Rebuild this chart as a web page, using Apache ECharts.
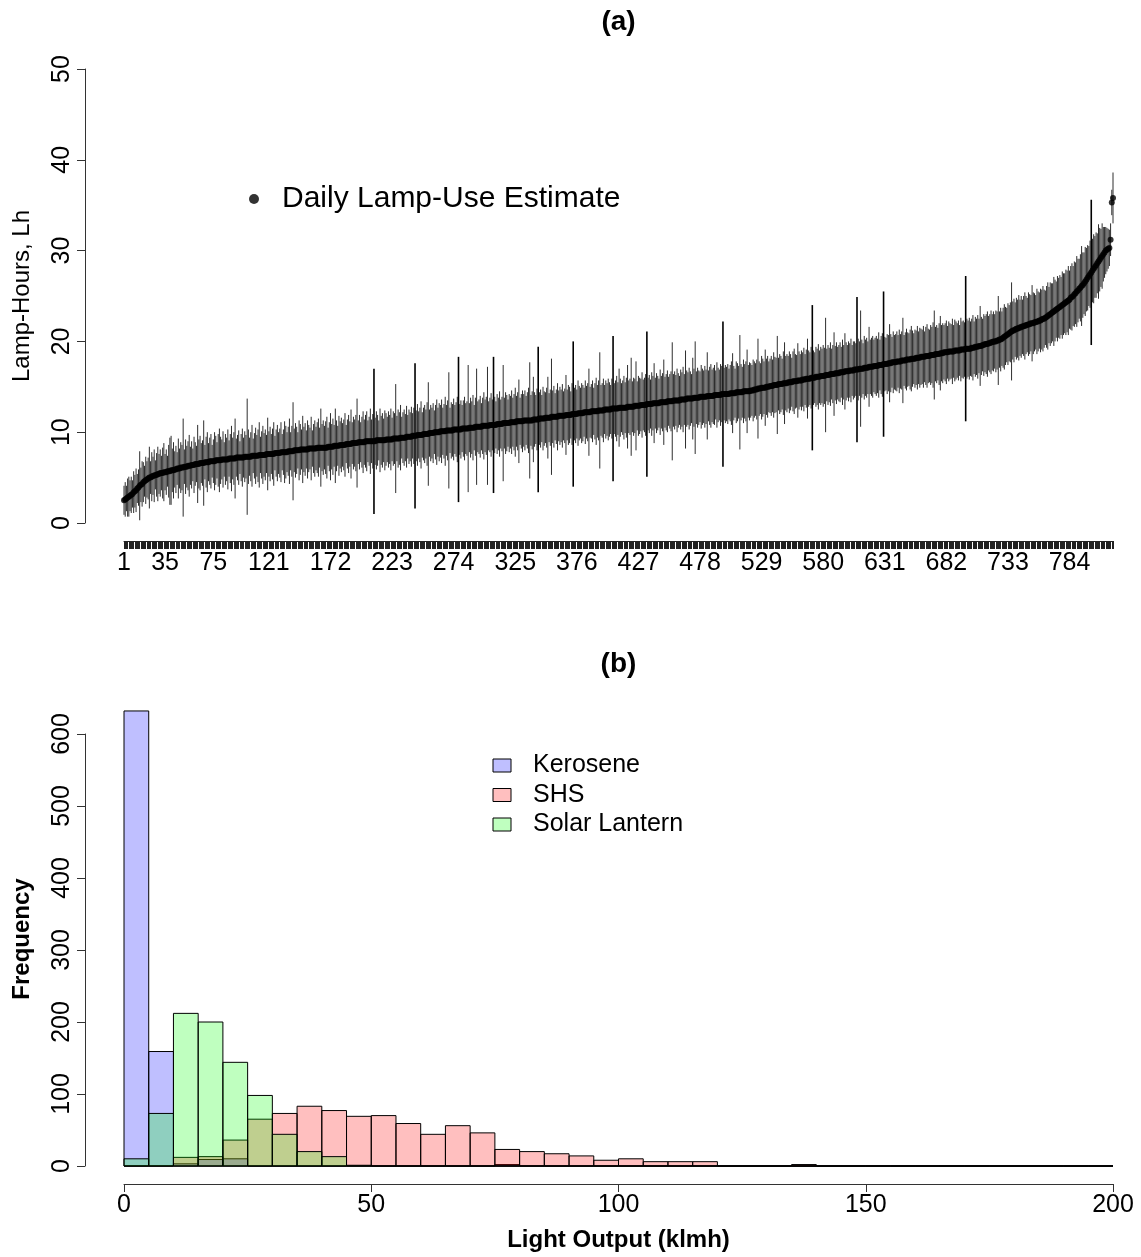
<!DOCTYPE html>
<html>
<head>
<meta charset="utf-8">
<script src="https://cdn.jsdelivr.net/npm/echarts@6.0.0/dist/echarts.min.js"></script>
<style>
html,body{margin:0;padding:0;background:#fff;}
#main{width:1141px;height:1257px;}
</style>
</head>
<body>
<div id="main"></div>
<script>
// ---------- Panel (a): daily lamp-use estimates, sorted ----------
const indexTickLabels = [1,35,75,121,172,223,274,325,376,427,478,529,580,631,682,733,784];

const lampMean = [
2.5,2.6,2.7,2.8,2.9,3.0,3.1,3.2,3.4,3.5,3.6,3.8,3.9,4.1,4.2,4.3,4.5,4.6,4.7,4.8,
4.9,5.0,5.0,5.1,5.2,5.2,5.3,5.3,5.4,5.4,5.5,5.5,5.5,5.6,5.6,5.6,5.7,5.7,5.7,5.8,
5.8,5.8,5.9,5.9,6.0,6.0,6.0,6.1,6.1,6.1,6.2,6.2,6.2,6.3,6.3,6.3,6.4,6.4,6.4,6.5,
6.5,6.5,6.5,6.6,6.6,6.6,6.6,6.7,6.7,6.7,6.7,6.8,6.8,6.8,6.8,6.8,6.9,6.9,6.9,6.9,
6.9,7.0,7.0,7.0,7.0,7.0,7.0,7.1,7.1,7.1,7.1,7.1,7.1,7.2,7.2,7.2,7.2,7.2,7.2,7.2,
7.3,7.3,7.3,7.3,7.3,7.3,7.4,7.4,7.4,7.4,7.4,7.4,7.5,7.5,7.5,7.5,7.5,7.5,7.6,7.6,
7.6,7.6,7.6,7.6,7.6,7.7,7.7,7.7,7.7,7.7,7.8,7.8,7.8,7.8,7.8,7.8,7.9,7.9,7.9,7.9,
7.9,8.0,8.0,8.0,8.0,8.0,8.1,8.1,8.1,8.1,8.1,8.1,8.1,8.2,8.2,8.2,8.2,8.2,8.2,8.2,
8.3,8.3,8.3,8.3,8.3,8.3,8.3,8.3,8.3,8.4,8.4,8.4,8.4,8.4,8.5,8.5,8.5,8.5,8.5,8.6,
8.6,8.6,8.6,8.6,8.7,8.7,8.7,8.7,8.7,8.8,8.8,8.8,8.8,8.8,8.9,8.9,8.9,8.9,8.9,8.9,
9.0,9.0,9.0,9.0,9.0,9.0,9.0,9.0,9.0,9.1,9.1,9.1,9.1,9.1,9.1,9.1,9.1,9.2,9.2,9.2,
9.2,9.2,9.2,9.3,9.3,9.3,9.3,9.3,9.3,9.4,9.4,9.4,9.4,9.4,9.5,9.5,9.5,9.5,9.5,9.6,
9.6,9.6,9.6,9.7,9.7,9.7,9.7,9.7,9.8,9.8,9.8,9.8,9.8,9.9,9.9,9.9,9.9,10.0,10.0,10.0,
10.0,10.0,10.1,10.1,10.1,10.1,10.1,10.2,10.2,10.2,10.2,10.2,10.2,10.3,10.3,10.3,10.3,10.3,10.3,10.3,
10.4,10.4,10.4,10.4,10.4,10.4,10.5,10.5,10.5,10.5,10.5,10.6,10.6,10.6,10.6,10.6,10.6,10.7,10.7,10.7,
10.7,10.7,10.7,10.8,10.8,10.8,10.8,10.8,10.8,10.9,10.9,10.9,10.9,10.9,11.0,11.0,11.0,11.0,11.0,11.0,
11.1,11.1,11.1,11.1,11.1,11.2,11.2,11.2,11.2,11.2,11.2,11.3,11.3,11.3,11.3,11.3,11.3,11.3,11.3,11.4,
11.4,11.4,11.4,11.4,11.5,11.5,11.5,11.5,11.5,11.6,11.6,11.6,11.6,11.6,11.7,11.7,11.7,11.7,11.7,11.7,
11.8,11.8,11.8,11.8,11.8,11.8,11.9,11.9,11.9,11.9,11.9,12.0,12.0,12.0,12.0,12.0,12.1,12.1,12.1,12.1,
12.1,12.2,12.2,12.2,12.2,12.2,12.2,12.3,12.3,12.3,12.3,12.3,12.3,12.4,12.4,12.4,12.4,12.4,12.5,12.5,
12.5,12.5,12.5,12.5,12.6,12.6,12.6,12.6,12.6,12.6,12.7,12.7,12.7,12.7,12.7,12.7,12.7,12.8,12.8,12.8,
12.8,12.8,12.8,12.9,12.9,12.9,12.9,12.9,13.0,13.0,13.0,13.0,13.0,13.1,13.1,13.1,13.1,13.1,13.2,13.2,
13.2,13.2,13.2,13.2,13.3,13.3,13.3,13.3,13.3,13.3,13.4,13.4,13.4,13.4,13.4,13.5,13.5,13.5,13.5,13.5,
13.5,13.6,13.6,13.6,13.6,13.6,13.7,13.7,13.7,13.7,13.7,13.7,13.8,13.8,13.8,13.8,13.8,13.9,13.9,13.9,
13.9,13.9,13.9,14.0,14.0,14.0,14.0,14.0,14.0,14.1,14.1,14.1,14.1,14.1,14.1,14.2,14.2,14.2,14.2,14.2,
14.2,14.2,14.3,14.3,14.3,14.3,14.3,14.4,14.4,14.4,14.4,14.4,14.4,14.5,14.5,14.5,14.5,14.5,14.5,14.6,
14.6,14.6,14.7,14.7,14.7,14.8,14.8,14.8,14.9,14.9,14.9,14.9,15.0,15.0,15.0,15.1,15.1,15.1,15.2,15.2,
15.2,15.2,15.3,15.3,15.3,15.3,15.4,15.4,15.4,15.4,15.5,15.5,15.5,15.5,15.6,15.6,15.6,15.6,15.7,15.7,
15.7,15.7,15.8,15.8,15.8,15.9,15.9,15.9,15.9,16.0,16.0,16.0,16.0,16.1,16.1,16.1,16.1,16.2,16.2,16.2,
16.2,16.3,16.3,16.3,16.3,16.4,16.4,16.4,16.4,16.5,16.5,16.5,16.5,16.6,16.6,16.6,16.6,16.7,16.7,16.7,
16.7,16.8,16.8,16.8,16.8,16.9,16.9,16.9,16.9,17.0,17.0,17.0,17.0,17.1,17.1,17.1,17.1,17.2,17.2,17.2,
17.2,17.3,17.3,17.3,17.3,17.4,17.4,17.4,17.4,17.5,17.5,17.5,17.5,17.6,17.6,17.6,17.7,17.7,17.7,17.7,
17.8,17.8,17.8,17.8,17.9,17.9,17.9,17.9,18.0,18.0,18.0,18.0,18.1,18.1,18.1,18.1,18.2,18.2,18.2,18.2,
18.3,18.3,18.3,18.3,18.4,18.4,18.4,18.4,18.5,18.5,18.5,18.5,18.6,18.6,18.6,18.6,18.7,18.7,18.7,18.8,
18.8,18.8,18.8,18.9,18.9,18.9,18.9,18.9,19.0,19.0,19.0,19.0,19.0,19.1,19.1,19.1,19.1,19.2,19.2,19.2,
19.2,19.2,19.3,19.3,19.3,19.4,19.4,19.4,19.5,19.5,19.5,19.6,19.6,19.7,19.7,19.7,19.8,19.8,19.9,19.9,
20.0,20.0,20.0,20.1,20.1,20.2,20.2,20.3,20.4,20.5,20.6,20.7,20.8,20.9,21.0,21.1,21.2,21.2,21.3,21.4,
21.4,21.5,21.5,21.6,21.6,21.7,21.7,21.8,21.8,21.9,21.9,22.0,22.0,22.0,22.1,22.1,22.2,22.2,22.3,22.3,
22.4,22.5,22.5,22.6,22.7,22.8,22.9,23.0,23.1,23.2,23.3,23.4,23.5,23.6,23.7,23.8,23.9,24.0,24.1,24.2,
24.3,24.4,24.5,24.6,24.8,24.9,25.0,25.2,25.3,25.5,25.6,25.8,25.9,26.1,26.2,26.4,26.6,26.8,27.0,27.2,
27.4,27.6,27.8,28.0,28.2,28.4,28.6,28.8,29.0,29.2,29.4,29.6,29.8,30.0,30.1,30.2,30.3,31.2,35.3,35.8
];

const lampHalfWidth = [
1.6,1.9,1.4,2.1,2.2,1.7,2.0,1.5,2.3,1.8,2.4,1.6,2.0,3.8,1.9,2.5,2.2,1.7,2.6,2.0,
2.3,3.4,1.8,2.7,2.1,2.9,1.6,2.4,3.0,2.2,2.6,1.9,2.8,3.2,2.0,2.5,1.7,2.9,3.7,3.8,
2.4,3.1,2.0,2.6,1.8,3.3,2.2,2.8,2.5,5.4,1.9,3.0,2.3,2.7,3.4,2.1,2.6,1.8,3.1,2.4,
2.0,4.3,2.7,3.0,2.2,2.5,4.7,1.9,2.8,3.3,2.1,2.6,3.0,1.8,2.4,3.2,2.7,2.0,2.9,3.5,
2.6,2.2,3.1,1.9,2.8,2.4,3.3,2.0,2.7,3.6,2.3,2.9,4.4,2.1,2.5,3.0,1.8,2.6,3.2,2.2,
2.8,2.4,6.4,3.0,2.1,2.7,3.4,1.9,2.5,3.1,2.3,2.9,3.6,2.0,2.6,3.2,2.4,2.8,2.1,4.0,
2.5,3.0,2.2,2.8,3.5,1.9,2.6,3.1,2.3,2.7,3.3,2.0,2.5,3.4,2.9,2.2,2.7,3.6,2.1,2.8,
5.4,2.4,3.0,2.6,2.0,3.3,2.8,2.2,3.7,2.5,2.9,2.1,3.2,2.6,2.3,3.5,2.0,2.7,3.1,2.4,
2.8,3.2,2.2,4.3,2.6,3.0,2.4,2.9,3.4,2.1,2.7,3.7,2.5,3.1,2.3,4.1,2.8,2.2,3.3,2.6,
3.0,2.4,2.8,3.5,2.1,2.7,3.2,2.5,3.8,2.3,2.9,2.6,3.1,4.9,2.4,3.0,2.2,2.8,3.4,2.5,
2.9,3.3,2.3,2.7,3.6,2.4,3.0,8.0,2.6,3.2,2.8,2.2,3.5,2.7,3.0,2.4,3.3,2.9,2.5,3.1,
2.7,3.4,2.4,3.0,2.8,6.0,2.5,3.2,2.9,3.6,2.3,2.8,3.1,2.6,3.4,2.4,3.0,2.7,3.3,2.5,
3.1,8.0,2.8,3.4,2.6,3.0,3.7,2.5,2.9,3.2,2.7,3.5,5.7,2.6,3.1,2.8,3.3,2.4,3.0,3.6,
2.7,3.2,2.9,3.5,2.6,3.0,3.8,2.8,3.3,6.4,2.5,3.1,2.9,3.4,2.7,3.0,3.6,8.0,2.8,3.2,
2.6,3.1,3.5,2.8,3.0,7.0,2.7,3.3,2.9,3.6,2.5,3.2,6.4,2.8,3.0,3.4,2.6,3.1,3.7,2.9,
3.2,6.5,2.7,3.0,3.5,2.8,7.5,3.1,2.6,3.3,2.9,3.6,2.7,3.0,6.4,2.8,3.4,3.1,2.6,3.2,
2.9,3.5,2.7,3.1,3.8,2.8,3.2,4.6,2.6,3.0,3.4,2.9,3.3,2.7,3.1,3.6,6.4,2.8,3.2,4.7,
3.0,2.7,3.4,8.0,2.9,3.2,2.6,3.5,3.0,2.8,3.3,4.5,2.7,3.1,6.4,2.9,3.4,2.6,3.0,3.7,
2.8,3.2,2.9,3.5,2.7,3.0,4.4,2.8,3.3,3.1,2.6,3.4,8.0,2.9,3.2,2.7,3.6,3.0,2.8,3.3,
3.1,2.7,3.5,2.9,3.2,4.8,2.8,3.0,3.4,2.6,3.1,3.7,2.9,3.3,6.4,2.8,3.0,3.5,2.7,3.2,
2.9,3.4,3.0,2.7,3.3,8.0,2.8,3.1,3.6,2.9,4.3,3.2,2.7,3.0,3.5,2.8,3.3,4.6,2.9,3.1,
5.4,2.8,3.2,3.0,4.9,2.7,3.3,3.1,2.9,3.6,2.8,3.0,3.4,8.0,2.9,3.2,2.7,3.5,3.0,4.4,
2.8,3.3,3.0,2.7,3.6,2.9,3.2,4.7,2.8,3.1,3.4,2.7,3.0,3.3,6.5,2.9,3.2,2.8,3.5,3.0,
2.7,3.3,3.0,3.6,2.8,5.4,3.1,2.9,3.4,3.0,2.7,4.5,3.2,6.2,2.9,3.3,3.0,2.8,3.5,3.1,
2.9,3.4,3.0,4.8,2.8,3.2,3.5,2.9,3.1,3.3,2.7,3.6,3.0,2.8,3.4,3.1,8.0,2.9,3.2,3.0,
3.3,2.8,3.1,3.5,4.4,3.0,2.7,3.4,3.2,2.9,6.3,3.1,2.8,3.5,3.0,3.3,4.6,2.9,3.2,3.0,
2.8,3.4,3.1,2.9,3.3,5.5,3.0,2.8,3.5,3.2,2.9,4.2,3.1,3.4,2.8,3.0,3.3,2.9,3.6,3.1,
3.0,5.4,2.9,3.3,3.1,2.8,3.5,4.5,3.0,3.2,2.9,3.4,3.1,2.7,3.3,3.6,3.0,2.9,4.1,3.2,
2.9,3.3,3.0,3.5,2.8,3.2,4.4,3.1,2.9,3.4,8.0,3.0,2.8,3.3,3.1,3.6,2.9,3.2,3.0,3.4,
3.1,6.3,2.9,3.3,3.0,3.5,2.8,3.2,4.6,3.0,3.4,2.9,3.1,3.3,2.8,3.6,3.0,4.2,3.2,2.9,
3.3,3.0,3.5,2.8,3.2,3.1,2.9,8.0,3.4,3.0,6.4,3.2,2.8,3.5,3.1,3.3,2.9,4.4,3.0,3.2,
3.4,2.9,3.1,3.3,3.0,3.6,2.8,3.2,3.5,8.0,3.0,2.9,3.3,3.1,4.3,3.2,2.8,3.4,3.0,3.1,
3.3,2.9,3.5,3.0,3.2,4.7,2.8,3.1,3.4,3.0,2.9,3.3,3.6,3.1,2.8,3.2,3.0,3.5,2.9,3.3,
3.1,3.0,3.4,2.8,3.2,3.5,3.0,2.9,3.3,3.1,3.6,4.9,3.0,3.2,2.9,3.4,4.1,3.1,3.3,3.0,
3.2,3.5,2.9,3.3,3.1,3.0,3.6,2.9,3.4,3.2,3.0,3.3,2.8,3.5,3.1,3.2,3.0,8.0,3.3,3.1,
3.4,3.0,3.2,3.6,2.9,3.3,3.1,3.5,3.0,4.4,3.2,2.9,3.4,3.1,3.3,3.6,3.0,3.2,3.5,3.1,
3.3,3.0,3.4,3.2,4.9,3.1,3.5,3.0,3.3,3.6,3.2,3.0,3.4,3.1,3.3,5.4,3.2,3.5,3.0,3.4,
3.2,3.6,3.1,3.4,3.0,3.3,3.7,3.2,3.0,3.5,3.3,3.1,4.2,3.4,3.2,3.0,3.6,3.3,3.1,3.5,
3.3,3.6,3.2,3.0,3.4,3.7,3.1,3.5,3.3,3.2,3.8,3.4,3.1,3.6,3.3,3.5,3.2,3.7,3.4,3.3,
3.6,3.4,3.8,3.2,3.5,3.7,3.3,3.6,3.4,3.9,3.5,3.3,3.7,4.4,3.6,3.4,3.8,3.5,3.6,3.3,
3.7,8.0,3.5,3.8,3.4,3.6,3.3,4.1,3.5,3.2,3.6,3.0,2.8,2.6,2.4,2.2,2.0,1.8,1.4,2.8
];

// ---------- Panel (b): histograms of light output (klmh), bins of 5 ----------
const binBreaks = [0,5,10,15,20,25,30,35,40,45,50,55,60,65,70,75,80,85,90,95,100,
  105,110,115,120,125,130,135,140,145,150,155,160,165,170,175,180,185,190,195,200];
const keroseneCounts = [632,159,3,9,10,0,0,0,0,0, 0,0,0,0,0,2,0,0,0,0, 0,0,0,0,0,0,0,0,0,0, 0,0,0,0,0,0,0,0,0,0];
const shsCounts      = [0,0,12,13,36,65,73,83,77,69, 70,59,44,56,46,23,20,17,14,8, 10,6,6,6,0,0,0,2,0,0, 0,0,0,0,0,0,0,0,0,0];
const solarCounts    = [10,73,212,200,144,98,44,20,13,1, 0,0,0,0,0,0,0,0,0,0, 0,0,0,0,0,0,0,0,0,0, 0,0,0,0,0,0,0,0,0,0];

const FONT = '"Liberation Sans", Arial, Helvetica, sans-serif';

const errData = lampMean.map((m, i) => [i + 1, m - lampHalfWidth[i], m + lampHalfWidth[i], lampHalfWidth[i]]);
const meanData = lampMean.map((m, i) => [i + 1, m]);
function histData(counts) {
  return counts.map((c, i) => [binBreaks[i], binBreaks[i + 1], c]);
}

const chart = echarts.init(document.getElementById('main'), null, {renderer: 'canvas'});

function histSeries(name, counts, color) {
  return {
    name: name, type: 'custom', xAxisIndex: 1, yAxisIndex: 1,
    itemStyle: {color: color, borderColor: '#000', borderWidth: 1},
    encode: {x: [0, 1], y: 2},
    data: histData(counts),
    renderItem: function (params, api) {
      const p0 = api.coord([api.value(0), api.value(2)]);
      const p1 = api.coord([api.value(1), 0]);
      return {
        type: 'rect',
        shape: {x: p0[0], y: p0[1], width: p1[0] - p0[0], height: p1[1] - p0[1]},
        style: {fill: color, stroke: '#000', lineWidth: 1}
      };
    }
  };
}

const axisLineStyle = {color: '#333', width: 1};
const labelStyle = {fontSize: 25, color: '#000', fontFamily: FONT};

const option = {
  animation: false,
  backgroundColor: '#fff',
  textStyle: {fontFamily: FONT},
  grid: [
    {left: 124, width: 989, top: 69, height: 454},
    {left: 124, width: 989, top: 734, height: 432}
  ],
  xAxis: [
    {
      gridIndex: 0, type: 'value', min: 1, max: 820, interval: 1, offset: 18,
      splitLine: {show: false},
      axisLine: {show: true, onZero: false, lineStyle: {color: '#222', width: 1}},
      axisTick: {show: true, length: 8, lineStyle: {color: '#222', width: 1}},
      axisLabel: {
        ...labelStyle, margin: 10, showMinLabel: true, showMaxLabel: true,
        formatter: v => (indexTickLabels.indexOf(v) >= 0 ? String(v) : '')
      }
    },
    {
      gridIndex: 1, type: 'value', min: 0, max: 200, interval: 50, offset: 18,
      name: 'Light Output (klmh)', nameLocation: 'middle', nameGap: 44,
      nameTextStyle: {fontSize: 24, fontWeight: 'bold', color: '#000', fontFamily: FONT},
      splitLine: {show: false},
      axisLine: {show: true, onZero: false, lineStyle: axisLineStyle},
      axisTick: {show: true, length: 8, lineStyle: axisLineStyle},
      axisLabel: {...labelStyle, margin: 9}
    }
  ],
  yAxis: [
    {
      gridIndex: 0, type: 'value', min: 0, max: 50, interval: 10, offset: 39,
      name: 'Lamp-Hours, Lh', nameLocation: 'middle', nameGap: 51, nameRotate: 90,
      nameTextStyle: {fontSize: 24, color: '#000', fontFamily: FONT},
      splitLine: {show: false},
      axisLine: {show: true, onZero: false, lineStyle: axisLineStyle},
      axisTick: {show: true, length: 8, lineStyle: axisLineStyle},
      axisLabel: {...labelStyle, rotate: 90, margin: 10}
    },
    {
      gridIndex: 1, type: 'value', min: 0, max: 600, interval: 100, offset: 39,
      splitLine: {show: false},
      axisLine: {show: true, onZero: false, lineStyle: axisLineStyle},
      axisTick: {show: true, length: 8, lineStyle: axisLineStyle},
      axisLabel: {...labelStyle, rotate: 90, margin: 10}
    }
  ],
  legend: [
    {
      data: [{name: 'Daily Lamp-Use Estimate', icon: 'circle'}],
      left: 249, top: 184, padding: 0, itemWidth: 10, itemHeight: 10, selectedMode: false,
      textStyle: {fontSize: 30, lineHeight: 30, color: '#000', fontFamily: FONT, padding: [0, 0, 0, 18]}
    },
    {
      data: [
        {name: 'Kerosene', itemStyle: {color: 'rgba(0,0,255,0.25)', borderColor: '#000', borderWidth: 1}},
        {name: 'SHS', itemStyle: {color: 'rgba(255,0,0,0.25)', borderColor: '#000', borderWidth: 1}},
        {name: 'Solar Lantern', itemStyle: {color: 'rgba(0,255,0,0.25)', borderColor: '#000', borderWidth: 1}}
      ],
      orient: 'vertical', left: 492.5, top: 753, padding: 0, itemWidth: 18, itemHeight: 13, itemGap: 4.5,
      icon: 'rect', selectedMode: false,
      textStyle: {fontSize: 25, lineHeight: 24, color: '#000', fontFamily: FONT, padding: [0, 0, 0, 17]}
    }
  ],
  graphic: [
    {type: 'text', x: 618.5, y: 22, style: {text: '(a)', font: 'bold 28px ' + FONT, fill: '#000', textAlign: 'center', textVerticalAlign: 'middle'}},
    {type: 'text', x: 618.5, y: 664, style: {text: '(b)', font: 'bold 28px ' + FONT, fill: '#000', textAlign: 'center', textVerticalAlign: 'middle'}},
    {type: 'text', x: 22, y: 939, rotation: Math.PI / 2, style: {text: 'Frequency', font: 'bold 24px ' + FONT, fill: '#000', textAlign: 'center', textVerticalAlign: 'middle'}}
  ],
  series: [
    {
      name: 'interval', type: 'custom', xAxisIndex: 0, yAxisIndex: 0,
      encode: {x: 0, y: [1, 2]},
      data: errData,
      renderItem: function (params, api) {
        const a = api.coord([api.value(0), api.value(1)]);
        const b = api.coord([api.value(0), api.value(2)]);
        const strong = api.value(3) >= 7.5;
        return {
          type: 'line',
          shape: {x1: a[0], y1: a[1], x2: b[0], y2: b[1]},
          style: {stroke: strong ? '#000' : '#2e2e2e', lineWidth: strong ? 1.6 : 1}
        };
      }
    },
    {
      name: 'Daily Lamp-Use Estimate', type: 'scatter', xAxisIndex: 0, yAxisIndex: 0,
      symbol: 'circle', symbolSize: 6,
      itemStyle: {color: '#000'},
      data: meanData
    },
    histSeries('Kerosene', keroseneCounts, 'rgba(0,0,255,0.25)'),
    histSeries('SHS', shsCounts, 'rgba(255,0,0,0.25)'),
    histSeries('Solar Lantern', solarCounts, 'rgba(0,255,0,0.25)')
  ]
};
chart.setOption(option);
</script>
</body>
</html>
